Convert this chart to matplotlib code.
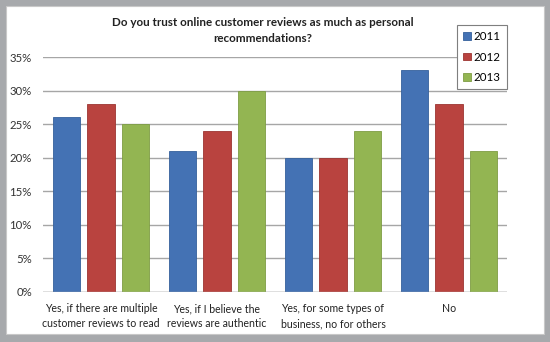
import numpy as np
import matplotlib.pyplot as plt
from matplotlib.patches import Rectangle

categories = ["Yes, if there are multiple\ncustomer reviews to read",
              "Yes, if I believe the\nreviews are authentic",
              "Yes, for some types of\nbusiness, no for others",
              "No"]
years = ["2011", "2012", "2013"]
v2011 = [26, 21, 20, 33]
v2012 = [28, 24, 20, 28]
v2013 = [25, 30, 24, 21]
yticks = [0, 5, 10, 15, 20, 25, 30, 35]

colors = ["#4472b4", "#b9433f", "#93b552"]
edges = ["#35609c", "#9c3532", "#7e9d44"]

plt.rcParams['font.family'] = ['Lato', 'DejaVu Sans']

fig = plt.figure(figsize=(5.5, 3.42), dpi=100)
fig.patch.set_facecolor("#a7a9ac")
# white card inside the grey frame
fig.patches.append(Rectangle((6/550, 8/342), 538/550, 328/342, transform=fig.transFigure,
                             facecolor="white", edgecolor="#c8c8c8", lw=0.8, zorder=-10))

ax = fig.add_axes([43/550, 1 - 292/342, 464/550, 235/342])
ax.set_facecolor("none")
ax.set_zorder(1)

x = np.arange(len(categories))
w = 0.237
step = 0.297
for i, vals in enumerate([v2011, v2012, v2013]):
    ax.bar(x + (i - 1) * step, vals, w, color=colors[i], edgecolor=edges[i],
           linewidth=0.6, label=years[i], zorder=3)

ax.set_xlim(-0.5, 3.5)
ax.set_ylim(0, 35)
ax.set_yticks(yticks)
ax.set_yticklabels([f"{t}%" for t in yticks], fontsize=8.2, color="#333333")
ax.set_xticks(x)
ax.set_xticklabels(categories, fontsize=7.6, color="#222222", linespacing=1.45)
ax.tick_params(axis="x", length=0, pad=8)
ax.tick_params(axis="y", length=0, pad=8)
ax.grid(axis="y", color="#a6a6a6", linewidth=1.0, zorder=0)
for s in ax.spines.values():
    s.set_visible(False)
ax.axhline(0, color="#a6a6a6", linewidth=1.0, zorder=4)

fig.text(263/550, 1 - 22/342, "Do you trust online customer reviews as much as personal",
         ha="center", va="center", fontsize=8.4, fontweight="bold", color="#222222")
fig.text(263/550, 1 - 38/342, "recommendations?",
         ha="center", va="center", fontsize=8.4, fontweight="bold", color="#222222")

leg = fig.legend(loc="upper left", bbox_to_anchor=(457/550, 1 - 25/342), fontsize=8.3,
                 handlelength=0.65, handleheight=0.65, handletextpad=0.25, labelspacing=0.8,
                 borderpad=0.55, borderaxespad=0, fancybox=False, framealpha=1,
                 edgecolor="#7f7f7f")
leg.get_frame().set_linewidth(0.8)
leg.set_zorder(5)

fig.savefig("out.png", dpi=100, facecolor=fig.get_facecolor())
